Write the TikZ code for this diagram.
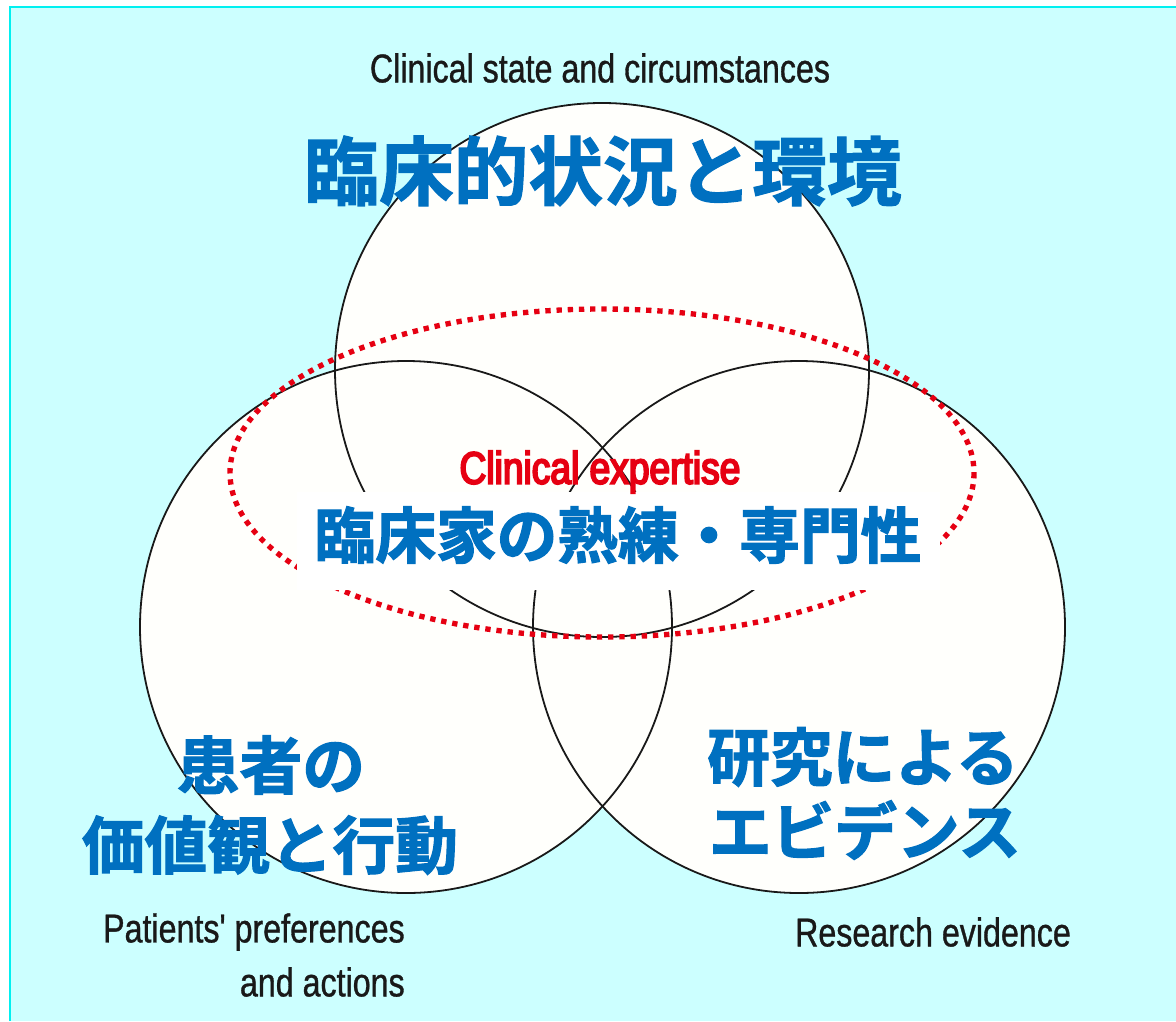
\documentclass[tikz,border=0pt]{standalone}
\usepackage{fontspec}
\newfontfamily\condf[FakeStretch=0.80]{Liberation Sans}
\newfontfamily\condb[FakeStretch=0.82]{Liberation Sans}
\newfontfamily\jpf{Noto Sans CJK JP Bold}
\newcommand\heavytxt[1]{\special{pdf:literal direct 2 Tr 0.9 w}#1\special{pdf:literal direct 0 Tr}}
\newcommand\boldtxt[1]{\special{pdf:literal direct 2 Tr 1.4 w}#1\special{pdf:literal direct 0 Tr}}
\newcommand\semitxt[1]{\special{pdf:literal direct 2 Tr 0.25 w}#1\special{pdf:literal direct 0 Tr}}
\definecolor{bgcyan}{HTML}{CCFFFF}
\definecolor{edgecyan}{HTML}{00F0F0}
\definecolor{jpblue}{HTML}{0070C0}
\definecolor{exred}{HTML}{E60012}
\definecolor{circfill}{HTML}{FFFFFC}
\begin{document}
\begin{tikzpicture}[x=0.75pt,y=-0.75pt,
  circ/.style={draw=black!90,line width=1.35pt},
  entext/.style={font=\condf\fontsize{30.2}{36}\selectfont,text=black!90,inner sep=0pt},
  jptext/.style={font=\jpf\fontsize{47}{56}\selectfont,text=jpblue,inner sep=0pt},
  redtext/.style={font=\condb\fontsize{34}{40}\selectfont,text=exred,inner sep=0pt}]
\useasboundingbox (0,0) rectangle (1176,1021);
\fill[white] (0,0) rectangle (1176,1021);
\fill[bgcyan] (10,7) rectangle (1176,1021);
\draw[edgecyan,line width=1.8pt] (10,1021) -- (10,7) -- (1176,7);
% circle fills
\fill[circfill] (602,370) circle[radius=267];
\fill[circfill] (406,627) circle[radius=266];
\fill[circfill] (799,627) circle[radius=266];
% circle outlines
\draw[circ] (602,370) circle[radius=267];
\draw[circ] (406,627) circle[radius=266];
\draw[circ] (799,627) circle[radius=266];
% dotted ellipse
\draw[exred,line width=4pt,dash pattern=on 4pt off 4.4pt] (602,473) ellipse[x radius=372,y radius=164];
% white band
\fill[white] (297,492) rectangle (940,590);
% texts
\node[entext] (tEN) at (600,68) {\semitxt{Clinical state and circumstances}};
\node[jptext,font=\jpf\fontsize{56}{66}\selectfont] (tJP) at (603,171) {\heavytxt{臨床的状況と環境}};
\node[redtext] (cEN) at (600,472) {\boldtxt{Clinical expertise}};
\node[jptext,font=\jpf\fontsize{45.5}{54}\selectfont] (cJP) at (618,535) {\heavytxt{臨床家の熟練・専門性}};
\node[jptext] (lJP1) at (271,765) {\heavytxt{患者の}};
\node[jptext] (lJP2) at (270,845) {\heavytxt{価値観と行動}};
\node[jptext] (rJP1) at (863,757) {\heavytxt{研究による}};
\node[jptext] (rJP2) at (865,830) {\heavytxt{エビデンス}};
\node[entext,anchor=east] (lEN1) at (405,932) {\semitxt{Patients' preferences}};
\node[entext,anchor=east] (lEN2) at (405,982) {\semitxt{and actions}};
\node[entext] (rEN) at (933,932) {\semitxt{Research evidence}};
\end{tikzpicture}
\end{document}
